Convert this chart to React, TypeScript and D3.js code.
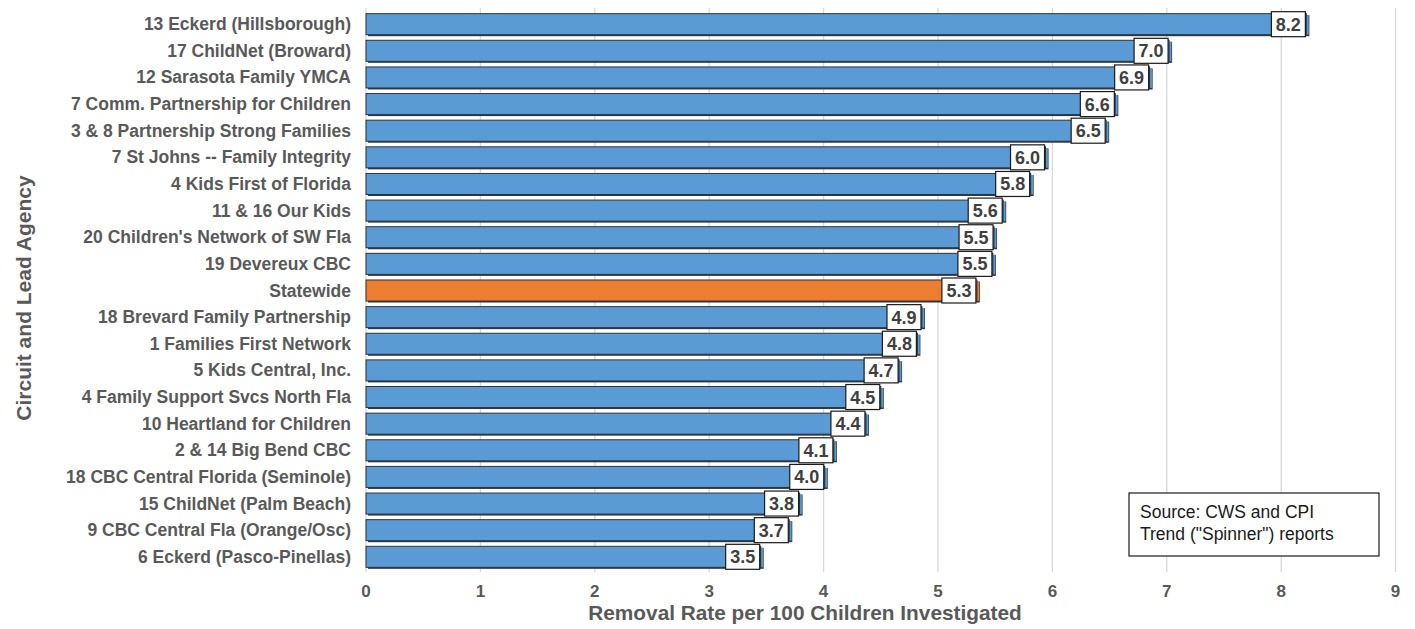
import React from "react";
import * as d3 from "d3";

const categories = [
  "13 Eckerd (Hillsborough)",
  "17 ChildNet (Broward)",
  "12 Sarasota Family YMCA",
  "7 Comm. Partnership for Children",
  "3 & 8 Partnership Strong Families",
  "7 St Johns -- Family Integrity",
  "4 Kids First of Florida",
  "11 & 16 Our Kids",
  "20 Children's Network of SW Fla",
  "19 Devereux CBC",
  "Statewide",
  "18 Brevard Family Partnership",
  "1 Families First Network",
  "5 Kids Central, Inc.",
  "4 Family Support Svcs North Fla",
  "10 Heartland for Children",
  "2 & 14 Big Bend CBC ",
  "18 CBC Central Florida (Seminole)",
  "15 ChildNet (Palm Beach)",
  "9 CBC Central Fla (Orange/Osc)",
  "6 Eckerd (Pasco-Pinellas)",
];

const values = [
  8.22, 7.02, 6.85, 6.55, 6.47, 5.94, 5.81, 5.57, 5.49, 5.48, 5.34, 4.86, 4.82,
  4.66, 4.5, 4.37, 4.09, 4.01, 3.79, 3.7, 3.45,
];

const valueLabels = [
  "8.2", "7.0", "6.9", "6.6", "6.5", "6.0", "5.8", "5.6", "5.5", "5.5", "5.3",
  "4.9", "4.8", "4.7", "4.5", "4.4", "4.1", "4.0", "3.8", "3.7", "3.5",
];

const xTicks = [0, 1, 2, 3, 4, 5, 6, 7, 8, 9];
const highlight = "Statewide";

const xTitle = "Removal Rate per 100 Children Investigated";
const yTitle = "Circuit and Lead Agency";
const sourceLines = ["Source: CWS and CPI", "Trend (\"Spinner\") reports"];

export default function App() {
  const W = 1415;
  const H = 629;
  const x0 = 366;
  const unit = 114.4;
  const x = d3.scaleLinear().domain([0, 9]).range([x0, x0 + 9 * unit]);
  const y = d3
    .scaleBand<string>()
    .domain(categories)
    .range([11, 570])
    .paddingInner(0.21)
    .paddingOuter(0.1);
  const bh = y.bandwidth();
  const font = "Liberation Sans, Arial, sans-serif";
  const gray = "#595959";

  return (
    <svg
      width={W}
      height={H}
      style={{ position: "absolute", left: 0, top: 0, background: "#fff" }}
      fontFamily={font}
    >
      {/* gridlines */}
      {xTicks.map((t) => (
        <line
          key={"g" + t}
          x1={x(t)}
          x2={x(t)}
          y1={8}
          y2={572}
          stroke="#d9d9d9"
          strokeWidth={1.3}
        />
      ))}
      {/* bars */}
      {categories.map((c, i) => {
        const yy = y(c)!;
        const xv = x(values[i]);
        const fill = c === highlight ? "#ed7d31" : "#5b9bd5";
        return (
          <g key={c}>
            <rect
              x={x0 + 2}
              y={yy + 1.5}
              width={xv + 3 - x0 - 2}
              height={bh}
              fill="#2a3a4a"
            />
            <rect
              x={x0}
              y={yy}
              width={xv - x0}
              height={bh}
              fill={fill}
              stroke="#333"
              strokeWidth={1}
            />
            <rect
              x={xv + 0.5}
              y={yy + 1.5}
              width={1.8}
              height={bh - 1.5}
              fill={fill}
            />
          </g>
        );
      })}
      {/* value label boxes */}
      {categories.map((c, i) => {
        const yy = y(c)! + bh / 2;
        const xv = x(values[i]);
        const bw = 34;
        return (
          <g key={"l" + c}>
            <rect
              x={xv - 1 - bw}
              y={yy - 12.5}
              width={bw}
              height={25}
              fill="#fff"
              stroke="#1a1a1a"
              strokeWidth={1.2}
            />
            <text
              x={xv - 1 - bw / 2}
              y={yy + 6.5}
              textAnchor="middle"
              fontSize={18}
              fontWeight="bold"
              fill="#404040"
            >
              {valueLabels[i]}
            </text>
          </g>
        );
      })}
      {/* category labels */}
      {categories.map((c) => (
        <text
          key={"c" + c}
          x={351}
          y={y(c)! + bh / 2 + 6}
          textAnchor="end"
          fontSize={17.5}
          fontWeight="bold"
          fill={gray}
        >
          {c}
        </text>
      ))}
      {/* x tick labels */}
      {xTicks.map((t) => (
        <text
          key={"t" + t}
          x={x(t)}
          y={597}
          textAnchor="middle"
          fontSize={17}
          fontWeight="bold"
          fill={gray}
        >
          {t}
        </text>
      ))}
      <text
        x={805}
        y={620}
        textAnchor="middle"
        fontSize={20.8}
        fontWeight="bold"
        fill={gray}
      >
        {xTitle}
      </text>
      <text
        transform="translate(31,298) rotate(-90)"
        textAnchor="middle"
        fontSize={21}
        fontWeight="bold"
        fill={gray}
      >
        {yTitle}
      </text>
      {/* source box */}
      <rect
        x={1129}
        y={493}
        width={250}
        height={63}
        fill="#fff"
        stroke="#1a1a1a"
        strokeWidth={1.2}
      />
      {sourceLines.map((s, i) => (
        <text key={s} x={1140} y={518 + i * 22} fontSize={17.5} fill="#1a1a1a">
          {s}
        </text>
      ))}
    </svg>
  );
}
